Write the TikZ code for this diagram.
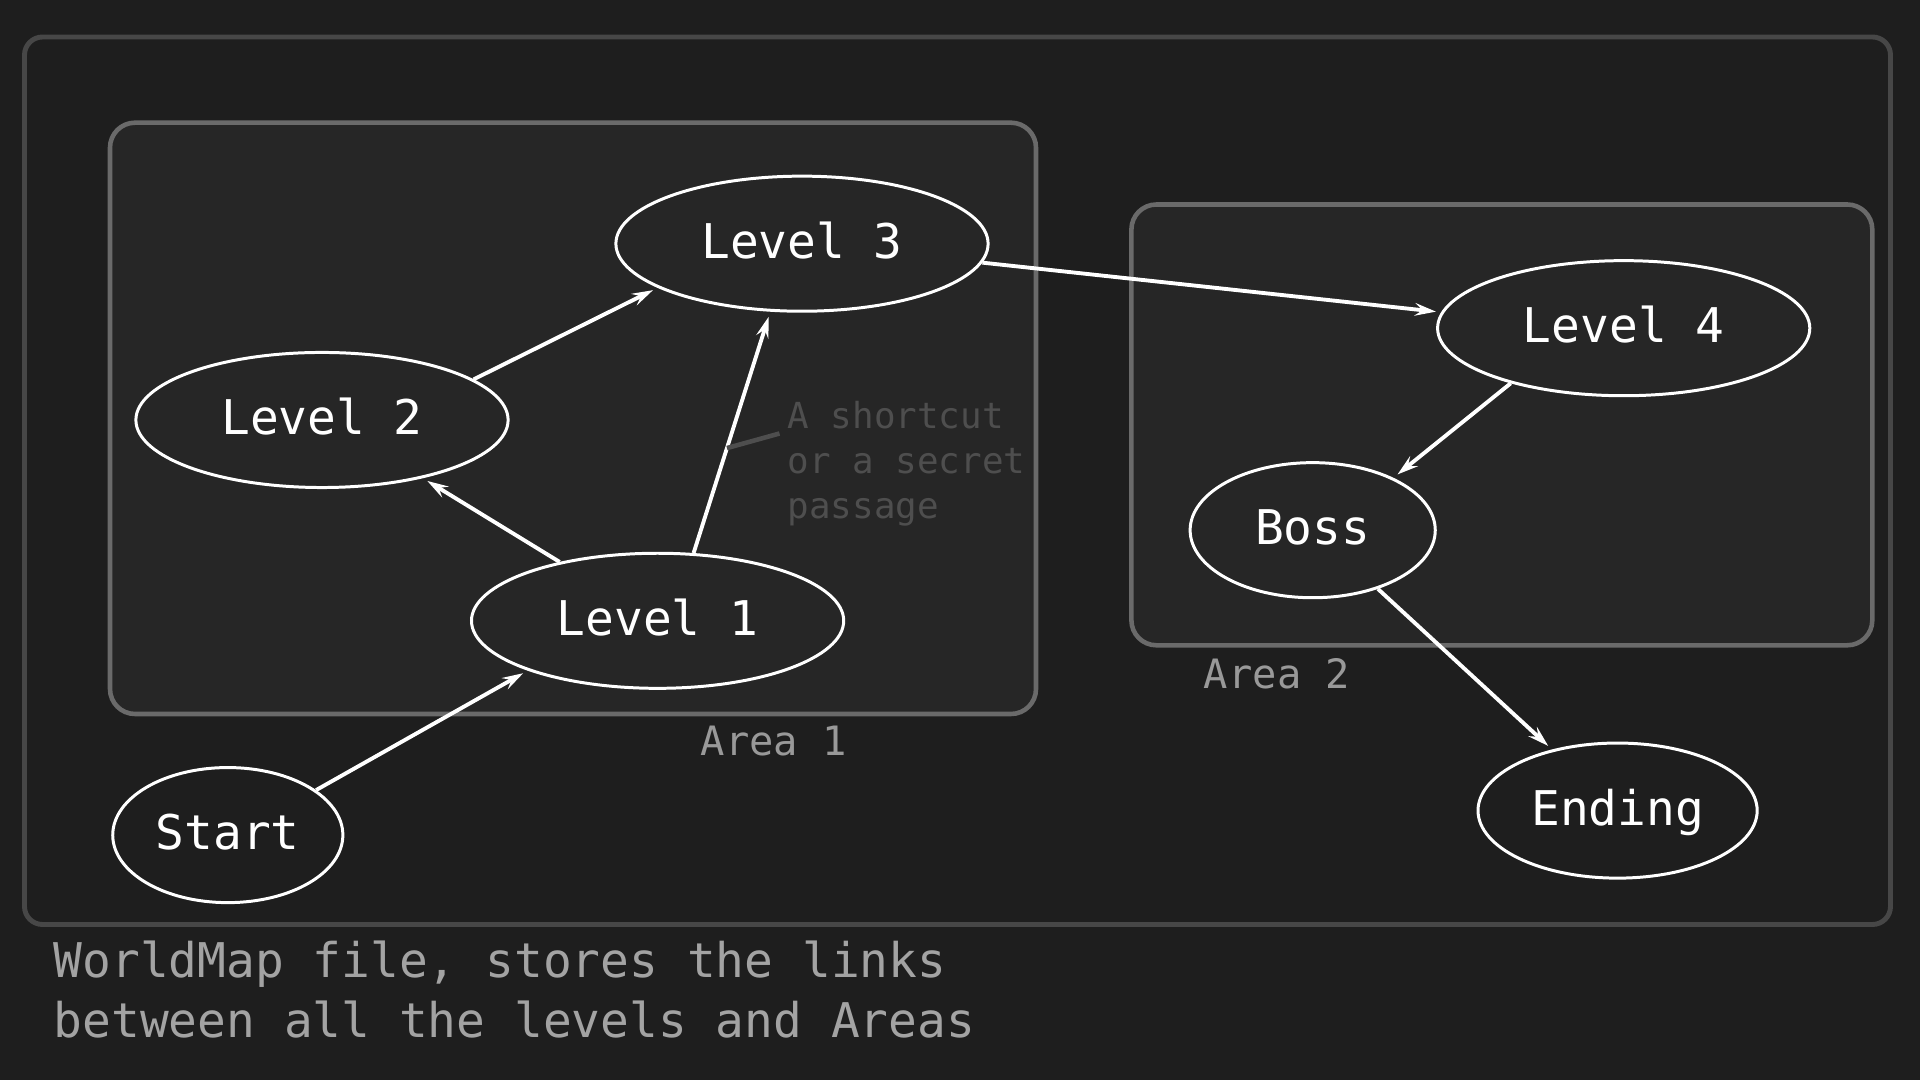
\documentclass[tikz,border=0pt]{standalone}
\usepackage{fontspec}
\setmonofont{DejaVu Sans Mono}
\usetikzlibrary{arrows.meta,shapes.geometric}
\definecolor{bg}{HTML}{1E1E1E}
\definecolor{areafill}{HTML}{262626}
\definecolor{arealine}{HTML}{6A6A6A}
\definecolor{frameline}{HTML}{474747}
\definecolor{labelgrey}{HTML}{999999}
\definecolor{notegrey}{HTML}{4E4E4E}
\definecolor{captiongrey}{HTML}{A3A3A3}
\begin{document}
\begin{tikzpicture}[x=0.01cm,y=-0.01cm,
    levelnode/.style={ellipse,draw=white,line width=0.85pt,inner sep=0pt,minimum height=1.35cm,text height=10.3pt,text depth=2pt,text=white,font=\ttfamily\fontsize{13.6}{16}\selectfont},
    areabox/.style={draw=arealine,fill=areafill,line width=1.3pt,rounded corners=0.25cm},
    link/.style={draw=white,line width=1.1pt,shorten >=1.5pt,-{Stealth[length=6pt,width=3.6pt,inset=2.2pt]}},
    arealabel/.style={text=labelgrey,font=\ttfamily\fontsize{11.5}{14}\selectfont}]
    \useasboundingbox (0,0) rectangle (1920,1080);
    \fill[bg] (0,0) rectangle (1920,1080);
    \draw[frameline,line width=1.4pt,rounded corners=0.18cm] (24.5,37) rectangle (1890.5,924.5);
    \draw[areabox] (110,122.7) rectangle (1036,714);
    \draw[areabox] (1131.4,204.5) rectangle (1872.3,645.3);
    \node[arealabel] (area1) at (774,741) {Area 1};
    \node[arealabel] (area2) at (1277,673.5) {Area 2};
    \node[levelnode,minimum width=3.72cm] (level3) at (802,243.7) {Level 3};
    \node[levelnode,minimum width=3.72cm] (level2) at (322,420) {Level 2};
    \node[levelnode,minimum width=3.72cm] (level1) at (657.6,620.8) {Level 1};
    \node[levelnode,minimum width=3.72cm] (level4) at (1623.7,328.2) {Level 4};
    \node[levelnode,minimum width=2.45cm] (boss) at (1312.7,530.2) {Boss};
    \node[levelnode,minimum width=2.3cm] (start) at (227.8,835.1) {Start};
    \node[levelnode,minimum width=2.79cm] (ending) at (1617.6,810.6) {Ending};
    \draw[link] (start.27) -- (level1.201);
    \draw[link] (level1.149) -- (level2.-30);
    \draw[link] (level2.15) -- (level3.197);
    \draw[link] (level1.62) -- coordinate[pos=0.435] (shortcutfoot) (level3.245);
    \draw[link] (level3.-6) -- (level4.175);
    \draw[link] (level4.206) -- (boss.33);
    \draw[link] (boss.-42) -- (ending.137);
    \node[anchor=north west,inner sep=0pt,align=left,text=notegrey,font=\ttfamily\fontsize{10.2}{12.7}\selectfont] (shortcut) at (787,401) {A shortcut\\or a secret\\passage};
    \coordinate (shortcuttip) at (779.5,433.5);
    \draw[notegrey,line width=1.3pt] (shortcutfoot) -- (shortcuttip);
    \node[anchor=north west,inner sep=0pt,align=left,text=captiongrey,font=\ttfamily\fontsize{13.6}{17.1}\selectfont] (caption) at (53,940) {WorldMap file, stores the links\\between all the levels and Areas};
\end{tikzpicture}
\end{document}
